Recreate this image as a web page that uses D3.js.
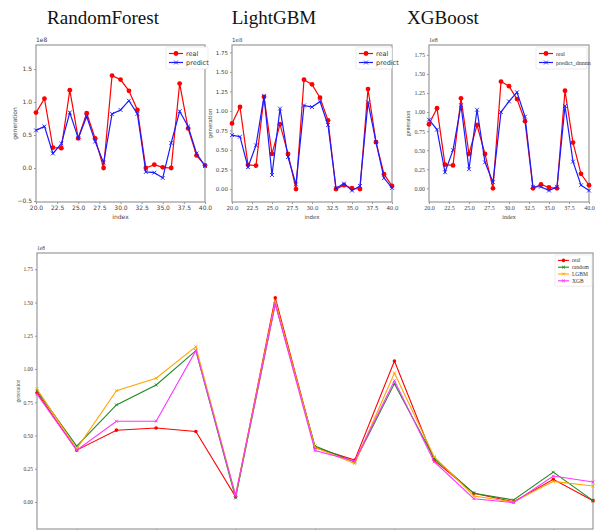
<!DOCTYPE html>
<meta charset="utf-8">
<style>
body { margin: 0; background: #fff; }
.title { font-family: "Liberation Serif", "DejaVu Serif", serif; font-size: 19px; fill: #111; }
.sans text { font-family: "DejaVu Sans", sans-serif; }
.serif text { font-family: "Liberation Serif", "DejaVu Serif", serif; }
</style>
<svg class="chart" width="599" height="530"></svg>
<script src="https://d3js.org/d3.v7.min.js"></script>
<script>

  // index values of the three small panels
  var smallIndex = [20, 21, 22, 23, 24, 25, 26, 27, 28, 29, 30, 31, 32, 33, 34, 35, 36, 37, 38, 39, 40];

  var realSmall = [0.84, 1.05, 0.31, 0.30, 1.18, 0.45, 0.83, 0.45, 0.00, 1.40, 1.34, 1.17,
                   0.88, 0.00, 0.05, 0.01, 0.00, 1.28, 0.60, 0.19, 0.04];
  var rfPredict = [0.57, 0.63, 0.22, 0.37, 0.84, 0.45, 0.78, 0.40, 0.08, 0.82, 0.88, 1.02,
                   0.82, -0.06, -0.07, -0.15, 0.38, 0.86, 0.63, 0.22, 0.03];
  var lgbPredict = [0.69, 0.67, 0.28, 0.56, 1.19, 0.18, 1.03, 0.41, 0.06, 1.07, 1.05, 1.12,
                    0.82, 0.01, 0.07, -0.02, 0.04, 1.11, 0.60, 0.14, 0.015];
  var xgbPredict = [0.90, 0.77, 0.21, 0.50, 1.09, 0.25, 1.03, 0.34, 0.08, 1.00, 1.14, 1.26,
                    0.94, 0.02, 0.02, -0.03, 0.02, 1.08, 0.35, 0.04, -0.03];

  // bottom comparison chart
  var bigIndex  = [0, 1, 2, 3, 4, 5, 6, 7, 8, 9, 10, 11, 12, 13, 14];
  var bigReal   = [0.82, 0.39, 0.54, 0.556, 0.53, 0.04, 1.536, 0.41, 0.315, 1.06, 0.315, 0.065, 0.002, 0.17, 0.01];
  var bigRandom = [0.835, 0.42, 0.73, 0.88, 1.138, 0.03, 1.49, 0.42, 0.30, 0.89, 0.33, 0.065, 0.015, 0.225, 0.01];
  var bigLGBM   = [0.85, 0.40, 0.837, 0.93, 1.168, 0.05, 1.51, 0.41, 0.29, 0.97, 0.34, 0.045, 0.0, 0.155, 0.12];
  var bigXGB    = [0.81, 0.39, 0.607, 0.607, 1.138, 0.05, 1.49, 0.386, 0.308, 0.912, 0.303, 0.025, -0.005, 0.195, 0.15];

  var smallTicksX = [20, 22.5, 25, 27.5, 30, 32.5, 35, 37.5, 40];
  var rfTicksY    = [-0.5, 0, 0.5, 1, 1.5];
  var gbTicksY    = [0, 0.25, 0.5, 0.75, 1, 1.25, 1.5, 1.75];
  var bigTicksX   = [1, 3, 5, 7, 9, 11, 13];

  var titles = ["RandomForest", "LightGBM", "XGBoost"];

  var svg = d3.select(".chart");

  svg.selectAll("text.title")
      .data(titles)
    .enter().append("text")
      .attr("class", "title")
      .attr("x", function(d, i) { return [103, 274, 443][i]; })
      .attr("y", 24)
      .attr("text-anchor", "middle")
      .text(function(d) { return d; });

  function drawPanel(opt) {
    var g = svg.append("g").attr("class", opt.font);
    var x = d3.scaleLinear().domain(opt.xDomain).range([opt.left, opt.right]);
    var y = d3.scaleLinear().domain(opt.yDomain).range([opt.bottom, opt.top]);

    var xAxis = g.append("g")
        .attr("transform", "translate(0," + opt.bottom + ")")
        .call(d3.axisBottom(x).tickValues(opt.xTicks).tickSize(2).tickPadding(2)
          .tickFormat(opt.xFormat));
    var yAxis = g.append("g")
        .attr("transform", "translate(" + opt.left + ",0)")
        .call(d3.axisLeft(y).tickValues(opt.yTicks).tickSize(2).tickPadding(2)
          .tickFormat(function(d) { return d3.format(opt.yFormat)(d).replace("-", "\u2212"); }));

    [xAxis, yAxis].forEach(function(a) {
      a.select(".domain").remove();
      a.selectAll("line").attr("stroke", "#555").attr("stroke-width", 0.6);
      a.selectAll("text").attr("fill", "#444").style("font-size", opt.tickSize + "px");
    });

    g.append("rect")
        .attr("x", opt.left).attr("y", opt.top)
        .attr("width", opt.right - opt.left).attr("height", opt.bottom - opt.top)
        .attr("fill", "none").attr("stroke", "#999").attr("stroke-width", 1.2);

    g.append("text")
        .attr("x", opt.left).attr("y", opt.top - 3)
        .attr("fill", "#444").style("font-size", opt.tickSize + "px")
        .text("1e8");

    g.append("text")
        .attr("transform", "translate(" + opt.ylabelX + "," + ((opt.top + opt.bottom) / 2) + ") rotate(-90)")
        .attr("text-anchor", "middle")
        .attr("fill", "#444").style("font-size", opt.tickSize + "px")
        .text("generation");

    if (opt.xlabel) {
      g.append("text")
          .attr("x", (opt.left + opt.right) / 2).attr("y", opt.bottom + 17)
          .attr("text-anchor", "middle")
          .attr("fill", "#444").style("font-size", opt.tickSize + "px")
          .text(opt.xlabel);
    }

    var plot = g.append("g");
    var line = d3.line()
        .x(function(d) { return x(d[0]); })
        .y(function(d) { return y(d[1]); });

    opt.series.forEach(function(s) {
      var pts = opt.xs.map(function(v, i) { return [v, s.values[i]]; });
      plot.append("path")
          .attr("d", line(pts))
          .attr("fill", "none")
          .attr("stroke", s.color)
          .attr("stroke-width", opt.lineWidth);
      drawMarkers(plot, pts.map(function(p) { return [x(p[0]), y(p[1])]; }), s, opt.markerSize);
    });

    // legend
    var lg = g.append("g").attr("transform", "translate(" + opt.legend[0] + "," + opt.legend[1] + ")");
    lg.append("rect")
        .attr("width", opt.legendW).attr("height", opt.series.length * opt.legendStep + 4)
        .attr("rx", 1.5)
        .attr("fill", "#fff").attr("stroke", "#ddd").attr("stroke-width", 0.6);
    opt.series.forEach(function(s, i) {
      var yy = 2 + opt.legendStep * (i + 0.5);
      lg.append("line")
          .attr("x1", 3).attr("x2", 3 + opt.legendLine)
          .attr("y1", yy).attr("y2", yy)
          .attr("stroke", s.color).attr("stroke-width", opt.lineWidth);
      drawMarkers(lg, [[3 + opt.legendLine / 2, yy]], s, opt.markerSize);
      lg.append("text")
          .attr("x", 6 + opt.legendLine).attr("y", yy)
          .attr("dy", "0.35em")
          .attr("fill", "#333").style("font-size", opt.legendFont + "px")
          .text(s.name);
    });
  }

  function drawMarkers(g, pts, s, size) {
    if (s.marker === "o") {
      g.selectAll(null).data(pts).enter().append("circle")
          .attr("cx", function(d) { return d[0]; })
          .attr("cy", function(d) { return d[1]; })
          .attr("r", size)
          .attr("fill", s.color);
    } else {
      var r = size * 0.8;
      g.selectAll(null).data(pts).enter().append("path")
          .attr("d", function(d) {
            return "M" + (d[0] - r) + "," + (d[1] - r) + "L" + (d[0] + r) + "," + (d[1] + r) +
                   "M" + (d[0] - r) + "," + (d[1] + r) + "L" + (d[0] + r) + "," + (d[1] - r);
          })
          .attr("stroke", s.color)
          .attr("stroke-width", 0.9)
          .attr("fill", "none");
    }
  }

  var small = {
    xs: smallIndex, xDomain: [20, 40], xTicks: smallTicksX, xFormat: d3.format(".1f"),
    top: 45, bottom: 202, tickSize: 6, lineWidth: 1.2, markerSize: 2.4,
    legendStep: 9, legendLine: 14, legendFont: 6.5, xlabel: "index"
  };

  drawPanel(Object.assign({}, small, {
    font: "sans", left: 36, right: 205, yDomain: [-0.515, 1.864], yTicks: rfTicksY, yFormat: ".1f",
    ylabelX: 17, legend: [166, 47], legendW: 42,
    series: [
      {name: "real", values: realSmall, color: "#f00", marker: "o"},
      {name: "predict", values: rfPredict, color: "#1a1aff", marker: "x"}
    ]
  }));

  drawPanel(Object.assign({}, small, {
    font: "sans", left: 232, right: 392, yDomain: [-0.166, 1.844], yTicks: gbTicksY, yFormat: ".2f",
    tickSize: 5.5, ylabelX: 212, legend: [356, 47], legendW: 36,
    series: [
      {name: "real", values: realSmall, color: "#f00", marker: "o"},
      {name: "predict", values: lgbPredict, color: "#1a1aff", marker: "x"}
    ]
  }));

  drawPanel(Object.assign({}, small, {
    font: "serif", left: 429, right: 589, yDomain: [-0.18, 1.88], yTicks: gbTicksY, yFormat: ".2f",
    ylabelX: 410, legend: [536, 47], legendW: 51, legendFont: 6,
    series: [
      {name: "real", values: realSmall, color: "#f00", marker: "o"},
      {name: "predict_dnnnn", values: xgbPredict, color: "#1a1aff", marker: "x"}
    ]
  }));

  drawPanel({
    font: "serif", xs: bigIndex, xDomain: [0, 14], xTicks: bigTicksX, xFormat: function() { return ""; },
    left: 37, right: 593, top: 253, bottom: 529, yDomain: [-0.203, 1.872], yTicks: gbTicksY, yFormat: ".2f",
    tickSize: 5.5, lineWidth: 1.1, markerSize: 1.8, ylabelX: 20,
    legend: [555, 255], legendW: 37, legendStep: 6.8, legendLine: 11, legendFont: 5.5,
    series: [
      {name: "real", values: bigReal, color: "#f00", marker: "o"},
      {name: "random", values: bigRandom, color: "#1f8a1f", marker: "x"},
      {name: "LGBM", values: bigLGBM, color: "#ffa500", marker: "x"},
      {name: "XGB", values: bigXGB, color: "#ff33ff", marker: "x"}
    ]
  });

</script>
